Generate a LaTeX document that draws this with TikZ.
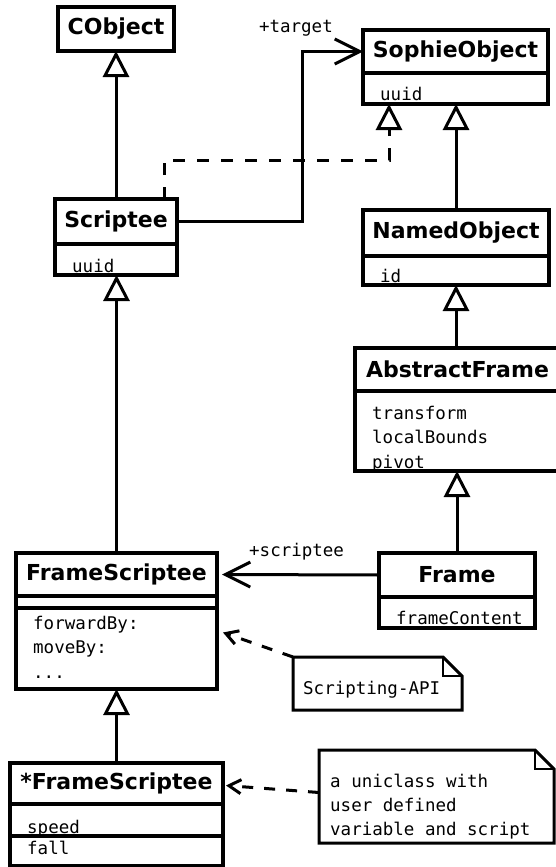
\documentclass[tikz,border=0pt]{standalone}
\usepackage{fontspec}
\setmainfont{DejaVu Sans}
\setmonofont{DejaVu Sans Mono}
\usetikzlibrary{arrows.meta}

\def\boxLine{3.2pt}
\def\linkLine{3pt}
\def\foldSize{19}
\def\attrInset{17}

\tikzset{
  classname/.style={draw, line width=\boxLine, inner sep=0pt, outer sep=0pt, font=\bfseries\fontsize{22}{26}\selectfont},
  compart/.style={draw, line width=\boxLine, inner sep=0pt, outer sep=0pt, anchor=north},
  attrtext/.style={anchor=base west, inner sep=0pt, font=\ttfamily\fontsize{17.5}{21}\selectfont},
  rolelabel/.style={inner sep=0pt, font=\ttfamily\fontsize{17.5}{21}\selectfont},
  notetext/.style={inner sep=0pt, font=\ttfamily\fontsize{17.5}{21}\selectfont},
  generalize/.style={line width=\linkLine, -{Triangle[open, length=26pt, width=26pt]}},
  realize/.style={generalize, dash pattern=on 12pt off 12pt},
  assoc/.style={line width=\linkLine, -{Straight Barb[length=25pt, width=25pt]}},
  notebox/.style={inner sep=0pt, outer sep=0pt},
  noteline/.style={line width=\linkLine, line join=miter},
  foldline/.style={line width=1.6pt},
  noteconn/.style={line width=\linkLine, dash pattern=on 11pt off 11pt, -{Straight Barb[length=12pt, width=14pt]}},
}

\begin{document}
\begin{tikzpicture}[x=1pt, y=-1pt]
  \useasboundingbox (0,0) rectangle (556,867);

  % classes
  \node[classname, minimum width=116, minimum height=44] (cobject) at (116,29) {CObject};

  \node[classname, minimum width=185, minimum height=43] (sophie) at (455.5,51.5) {SophieObject};
  \node[compart, minimum width=185, minimum height=31] (sophieattr) at (sophie.south) {};

  \node[classname, minimum width=122, minimum height=45] (scriptee) at (116,221.5) {Scriptee};
  \node[compart, minimum width=122, minimum height=31] (scripteeattr) at (scriptee.south) {};

  \node[classname, minimum width=186, minimum height=46] (named) at (456,233) {NamedObject};
  \node[compart, minimum width=186, minimum height=29] (namedattr) at (named.south) {};

  \node[classname, minimum width=205, minimum height=43] (abstract) at (457.5,369.5) {AbstractFrame};
  \node[compart, minimum width=205, minimum height=80] (abstractattr) at (abstract.south) {};

  \node[classname, minimum width=156, minimum height=44] (frame) at (457,575) {Frame};
  \node[compart, minimum width=156, minimum height=31] (frameattr) at (frame.south) {};

  \node[classname, minimum width=201, minimum height=43] (framescriptee) at (116.5,574.5) {FrameScriptee};
  \node[compart, minimum width=201, minimum height=12] (framescripteeattr) at (framescriptee.south) {};
  \node[compart, minimum width=201, minimum height=81] (framescripteeops) at (framescripteeattr.south) {};

  \node[classname, minimum width=213, minimum height=41] (starscriptee) at (116.5,783.5) {*FrameScriptee};
  \node[compart, minimum width=213, minimum height=32] (starscripteeattr) at (starscriptee.south) {};
  \node[compart, minimum width=213, minimum height=30] (starscripteeops) at (starscripteeattr.south) {};

  % attributes and operations
  \foreach \cmp/\i/\dy/\t in {sophieattr/1/27/uuid, scripteeattr/1/28/uuid, namedattr/1/26/id,
      abstractattr/1/28/transform, abstractattr/2/52/localBounds, abstractattr/3/77/pivot,
      frameattr/1/27/frameContent, framescripteeops/1/21/forwardBy:, framescripteeops/2/45/moveBy:,
      framescripteeops/3/70/{.}{.}{.}, starscripteeattr/1/29/speed, starscripteeops/1/18/fall} {
    \node[attrtext] (\cmp-\i) at ([shift={(\attrInset,\dy)}]\cmp.north west) {\t};
  }

  % inheritance
  \draw[generalize] (scriptee.north) -- (cobject.south);
  \draw[generalize] (framescriptee.north) -- (framescriptee.north |- scripteeattr.south);
  \draw[generalize] (starscriptee.north) -- (starscriptee.north |- framescripteeops.south);
  \draw[generalize] (named.north) -- (named.north |- sophieattr.south);
  \draw[generalize] (named.north |- abstract.north) -- (named.north |- namedattr.south);
  \draw[generalize] (frame.north) -- (frame.north |- abstractattr.south);
  \draw[realize] ([shift={(-13,0)}]scriptee.north east) -- ++(0,-39) -| ([shift={(26,0)}]sophieattr.south west);

  % associations
  \draw[assoc] (scriptee.east) -- ++(125,0) |- (sophie.west);
  \node[rolelabel, anchor=base east] (targetlabel) at ([shift={(-30,-19)}]sophie.west) {+target};
  \draw[assoc] (frame.west) -- ([shift={(5,0)}]framescriptee.east);
  \node[rolelabel, anchor=base west] (scripteelabel) at ([shift={(32,-18)}]framescriptee.east) {+scriptee};

  % notes
  \node[notebox, minimum width=169, minimum height=53] (apinote) at (377.5,683.5) {};
  \node[notebox, minimum width=235, minimum height=93] (uninote) at (436.5,796.5) {};
  \foreach \n in {apinote,uninote} {
    \draw[noteline] (\n.north west) -- ([shift={(-\foldSize,0)}]\n.north east)
      -- ([shift={(0,\foldSize)}]\n.north east) -- (\n.south east) -- (\n.south west) -- cycle;
    \draw[foldline] ([shift={(-\foldSize,0)}]\n.north east) |- ([shift={(0,\foldSize)}]\n.north east);
  }
  \node[notetext, anchor=base west] (apitext) at ([shift={(10,10.5)}]apinote.west) {Scripting-API};
  \foreach \i/\t in {0/a uniclass with,1/user defined,2/variable and script}
    \node[notetext, anchor=base west] (unitext-\i) at ([shift={(11,-9.5+24*\i)}]uninote.west) {\t};

  \draw[noteconn] (apinote.north west) -- ([shift={(6,-16)}]framescripteeops.east);
  \draw[noteconn] ([shift={(0,-4)}]uninote.west) -- ([shift={(3,2)}]starscriptee.east);
\end{tikzpicture}
\end{document}
